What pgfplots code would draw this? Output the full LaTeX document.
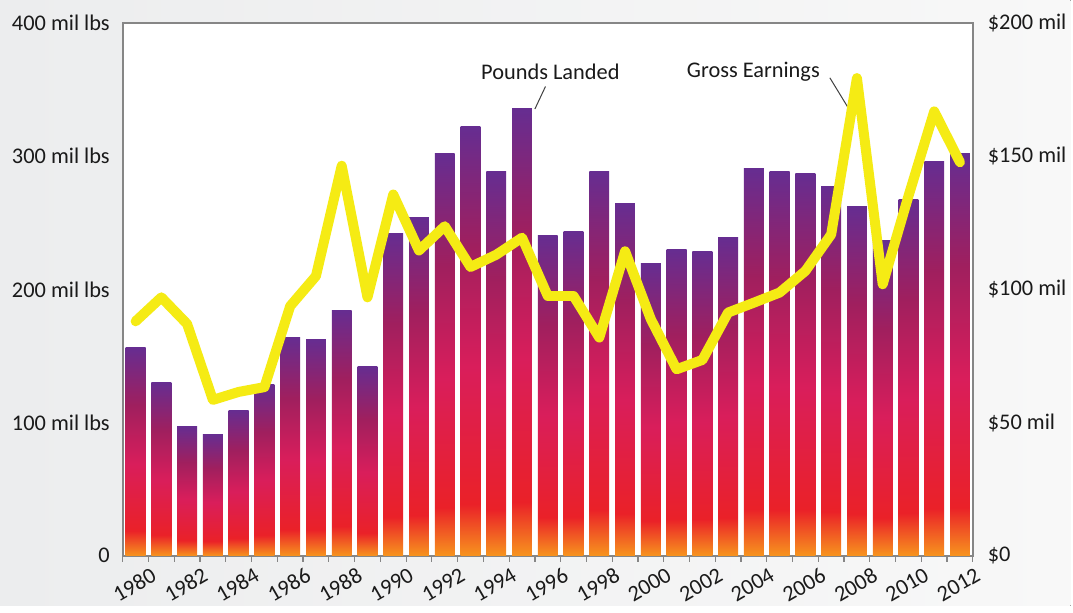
\documentclass[border=0pt]{standalone}
\usepackage{fontspec}
\setmainfont{Carlito}
\usepackage{pgfplots}
\pgfplotsset{compat=1.18}
\usepackage{pgfplotstable}

\definecolor{txt}{RGB}{26,26,26}
\definecolor{axgray}{RGB}{134,134,134}
\definecolor{bgL}{RGB}{236,237,238}
\definecolor{bgR}{RGB}{248,248,248}
\definecolor{cOrange}{RGB}{247,148,30}
\definecolor{cRed}{RGB}{234,33,40}
\definecolor{cMag}{RGB}{217,30,91}
\definecolor{cMaroon}{RGB}{160,31,94}
\definecolor{cPurple}{RGB}{102,45,145}
\definecolor{lineyellow}{RGB}{245,235,20}

% tikz maps the middle half (25bp..75bp) of a shading onto the path
\pgfdeclareverticalshading{barshade}{100bp}{%
  color(0bp)=(cOrange); color(25bp)=(cOrange); color(31bp)=(cRed);
  color(47bp)=(cMag); color(61bp)=(cMaroon); color(75bp)=(cPurple);
  color(100bp)=(cPurple)}

% pounds landed, mil lbs
\pgfplotstableread{
year lbs
1980 156.6
1981 130.3
1982 97.4
1983 91.4
1984 109.4
1985 128.8
1986 164.0
1987 162.5
1988 184.3
1989 142.3
1990 242.0
1991 254.0
1992 301.9
1993 322.0
1994 288.4
1995 335.6
1996 240.4
1997 243.4
1998 288.4
1999 264.4
2000 219.5
2001 230.0
2002 228.5
2003 239.0
2004 290.6
2005 288.4
2006 286.9
2007 277.2
2008 262.2
2009 236.7
2010 267.4
2011 295.9
2012 301.9
}\pounds

% gross earnings, $ mil
\pgfplotstableread{
year usd
1980 88.0
1981 97.0
1982 87.0
1983 58.5
1984 61.5
1985 63.3
1986 93.7
1987 105.0
1988 146.4
1989 97.0
1990 135.6
1991 114.6
1992 123.7
1993 108.4
1994 113.0
1995 119.4
1996 97.5
1997 97.5
1998 81.9
1999 114.3
2000 88.8
2001 70.0
2002 73.5
2003 91.3
2004 95.0
2005 98.8
2006 106.9
2007 120.6
2008 179.3
2009 101.9
2010 135.0
2011 166.8
2012 147.7
}\earnings

\newcommand{\lblfont}{\fontsize{11.2}{13.4}\selectfont}

\begin{document}
\begin{tikzpicture}[font=\lblfont, text=txt]
\fill[left color=bgL, right color=bgR] (0,0) rectangle (536.5pt,303.5pt);

\begin{axis}[
    at={(61.5pt,25pt)}, anchor=south west,
    scale only axis, width=426pt, height=267pt,
    xmin=1979.5, xmax=2012.5, ymin=0, ymax=400,
    axis background/.style={fill=white},
    axis line style={draw=axgray, line width=0.8pt},
    tick style={draw=axgray, line width=0.6pt},
    xtick pos=bottom, ytick pos=left,
    tick align=outside,
    major tick length=0pt, minor tick length=3pt,
    xtick={1980,1982,...,2012},
    xticklabels={1980,1982,1984,1986,1988,1990,1992,1994,1996,1998,2000,2002,2004,2006,2008,2010,2012},
    minor xtick={1979.5,1980.5,...,2012.5},
    xticklabel style={rotate=30, anchor=north east, xshift=7pt, yshift=-5pt},
    ytick={0,100,200,300,400},
    yticklabels={0,100 mil lbs,200 mil lbs,300 mil lbs,400 mil lbs},
    yticklabel style={xshift=-3pt},
    tick label style={font=\lblfont, text=txt},
]
% one plot per bar so that every bar gets its own gradient
\pgfplotsinvokeforeach{0,...,32}{
  \addplot[ybar, bar width=0.77, draw=none, shading=barshade, shade,
    restrict expr to domain={\coordindex}{#1:#1}] table[x=year, y=lbs] {\pounds};
}

\node at (axis cs:1996.1,363.4) {Pounds Landed};
\draw[black!75, line width=0.5pt] (axis cs:1995.91,352.3) -- (axis cs:1995.5,335.4);
\node at (axis cs:2003.98,363.4) {Gross Earnings};
\draw[black!75, line width=0.5pt] (axis cs:2006.95,358.8) -- (axis cs:2007.66,336.3);
\end{axis}

\begin{axis}[
    at={(61.5pt,25pt)}, anchor=south west,
    scale only axis, width=426pt, height=267pt,
    xmin=1979.5, xmax=2012.5, ymin=0, ymax=200,
    axis x line=none, axis y line*=right,
    axis line style={draw=none},
    major tick length=0pt,
    ytick={0,50,100,150,200},
    yticklabels={\$0,\$50 mil,\$100 mil,\$150 mil,\$200 mil},
    yticklabel style={anchor=west, xshift=4pt},
    tick label style={font=\lblfont, text=txt},
]
\addplot[lineyellow, line width=5pt, line join=round, line cap=round, mark=none] table[x=year, y=usd] {\earnings};
\end{axis}
\end{tikzpicture}
\end{document}
